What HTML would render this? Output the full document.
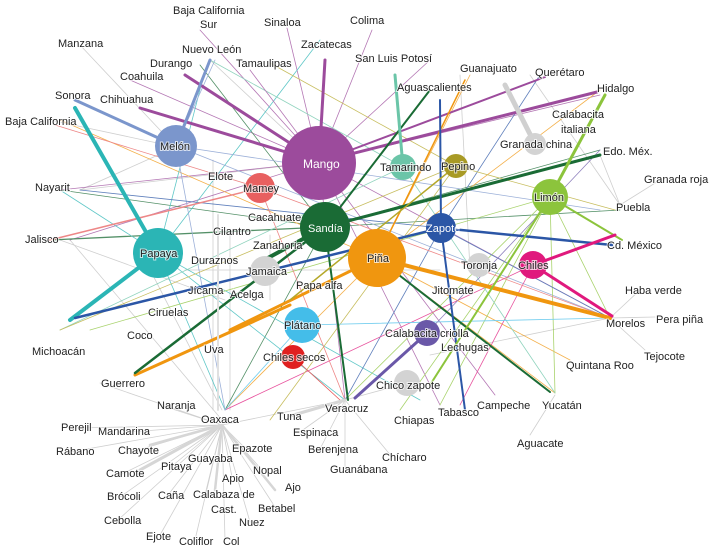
<!DOCTYPE html>
<html><head><meta charset="utf-8"><style>
body{margin:0;background:#fff}
svg{display:block}
text{font-family:"Liberation Sans",sans-serif;font-size:11px;fill:#222}
.lb text{paint-order:stroke;stroke:#fff;stroke-width:2px;stroke-opacity:.7}
.w{fill:#fff;stroke:none!important}
</style></head><body>
<svg width="711" height="553" viewBox="0 0 711 553">
<g fill="none" stroke-linecap="round">
<g stroke="#cfcfcf" stroke-width="0.8">
<line x1="222" y1="425" x2="75" y2="428"/><line x1="222" y1="425" x2="130" y2="432"/><line x1="222" y1="425" x2="70" y2="452"/>
<line x1="222" y1="425" x2="135" y2="451"/><line x1="222" y1="425" x2="120" y2="475"/><line x1="222" y1="425" x2="120" y2="497"/>
<line x1="222" y1="425" x2="118" y2="520"/><line x1="222" y1="425" x2="160" y2="535"/><line x1="222" y1="425" x2="195" y2="540"/>
<line x1="222" y1="425" x2="225" y2="540"/><line x1="222" y1="425" x2="250" y2="522"/><line x1="222" y1="425" x2="275" y2="507"/>
<line x1="222" y1="425" x2="168" y2="495"/><line x1="222" y1="425" x2="172" y2="466"/><line x1="222" y1="425" x2="205" y2="495"/>
<line x1="222" y1="425" x2="232" y2="477"/><line x1="222" y1="425" x2="262" y2="470"/><line x1="222" y1="425" x2="245" y2="448"/>
<line x1="222" y1="425" x2="160" y2="405"/><line x1="222" y1="425" x2="100" y2="383"/><line x1="222" y1="425" x2="345" y2="400"/>
<line x1="345" y1="400" x2="300" y2="432"/><line x1="345" y1="400" x2="320" y2="449"/><line x1="345" y1="400" x2="345" y2="468"/>
<line x1="345" y1="400" x2="392" y2="457"/><line x1="345" y1="400" x2="290" y2="416"/><line x1="345" y1="400" x2="400" y2="385"/>
<line x1="610" y1="318" x2="640" y2="290"/><line x1="610" y1="318" x2="655" y2="317"/><line x1="610" y1="318" x2="645" y2="350"/>
<line x1="610" y1="318" x2="430" y2="355"/><line x1="620" y1="205" x2="660" y2="180"/><line x1="620" y1="205" x2="600" y2="155"/>
<line x1="555" y1="395" x2="530" y2="435"/>
<line x1="80" y1="45" x2="176" y2="147"/><line x1="80" y1="190" x2="176" y2="147"/><line x1="80" y1="190" x2="319" y2="162"/>
<line x1="70" y1="240" x2="222" y2="420"/><line x1="50" y1="120" x2="176" y2="147"/><line x1="210" y1="60" x2="319" y2="162"/>
<line x1="213" y1="160" x2="213" y2="410"/><line x1="230" y1="235" x2="230" y2="410"/><line x1="270" y1="235" x2="270" y2="300"/>
<line x1="185" y1="270" x2="440" y2="270"/><line x1="60" y1="240" x2="225" y2="300"/><line x1="140" y1="250" x2="222" y2="410"/>
<line x1="530" y1="75" x2="620" y2="205"/><line x1="460" y1="75" x2="470" y2="270"/>
</g>
<g stroke-width="0.8" opacity="0.75">
<line x1="319" y1="162" x2="200" y2="30" stroke="#9c4b9c"/><line x1="319" y1="162" x2="287" y2="28" stroke="#9c4b9c"/>
<line x1="319" y1="162" x2="372" y2="30" stroke="#9c4b9c"/><line x1="319" y1="162" x2="130" y2="80" stroke="#9c4b9c"/>
<line x1="319" y1="162" x2="60" y2="190" stroke="#9c4b9c"/><line x1="319" y1="162" x2="70" y2="240" stroke="#9c4b9c"/>
<line x1="319" y1="162" x2="345" y2="400" stroke="#9c4b9c"/><line x1="319" y1="162" x2="610" y2="318" stroke="#9c4b9c"/>
<line x1="319" y1="162" x2="430" y2="60" stroke="#9c4b9c"/><line x1="319" y1="162" x2="600" y2="95" stroke="#9c4b9c"/>
<line x1="319" y1="162" x2="440" y2="405" stroke="#9c4b9c"/><line x1="319" y1="162" x2="495" y2="395" stroke="#9c4b9c"/>
<line x1="325" y1="227" x2="600" y2="150" stroke="#1a6b35"/><line x1="325" y1="227" x2="60" y2="190" stroke="#1a6b35"/>
<line x1="325" y1="227" x2="225" y2="410" stroke="#1a6b35"/><line x1="325" y1="227" x2="200" y2="65" stroke="#1a6b35"/>
<line x1="325" y1="227" x2="620" y2="210" stroke="#1a6b35"/><line x1="325" y1="227" x2="50" y2="240" stroke="#1a6b35" stroke-width="1.3"/>
<line x1="377" y1="258" x2="600" y2="90" stroke="#f0960f"/><line x1="377" y1="258" x2="225" y2="410" stroke="#f0960f"/>
<line x1="377" y1="258" x2="555" y2="393" stroke="#f0960f"/><line x1="377" y1="258" x2="470" y2="75" stroke="#f0960f"/>
<line x1="377" y1="258" x2="570" y2="360" stroke="#f0960f"/><line x1="377" y1="258" x2="60" y2="120" stroke="#f0960f"/>
<line x1="158" y1="253" x2="60" y2="190" stroke="#2bb5b5"/><line x1="158" y1="253" x2="225" y2="410" stroke="#2bb5b5"/>
<line x1="158" y1="253" x2="205" y2="70" stroke="#2bb5b5"/><line x1="158" y1="253" x2="345" y2="400" stroke="#2bb5b5"/>
<line x1="158" y1="253" x2="320" y2="40" stroke="#2bb5b5"/><line x1="158" y1="253" x2="420" y2="400" stroke="#2bb5b5"/>
<line x1="176" y1="146" x2="225" y2="410" stroke="#7b96cc"/><line x1="176" y1="146" x2="215" y2="60" stroke="#7b96cc"/>
<line x1="176" y1="146" x2="600" y2="210" stroke="#7b96cc"/><line x1="176" y1="146" x2="610" y2="318" stroke="#7b96cc"/>
<line x1="550" y1="197" x2="440" y2="405" stroke="#8cc43c"/><line x1="550" y1="197" x2="555" y2="393" stroke="#8cc43c"/>
<line x1="550" y1="197" x2="345" y2="400" stroke="#8cc43c"/><line x1="550" y1="197" x2="610" y2="318" stroke="#8cc43c"/>
<line x1="550" y1="197" x2="90" y2="330" stroke="#8cc43c"/><line x1="550" y1="197" x2="400" y2="410" stroke="#8cc43c"/>
<line x1="441" y1="228" x2="80" y2="190" stroke="#2b56a6"/><line x1="441" y1="228" x2="345" y2="400" stroke="#2b56a6"/>
<line x1="441" y1="228" x2="540" y2="75" stroke="#2b56a6"/><line x1="441" y1="228" x2="610" y2="318" stroke="#2b56a6"/>
<line x1="533" y1="265" x2="460" y2="405" stroke="#e0197d"/><line x1="533" y1="265" x2="225" y2="410" stroke="#e0197d"/>
<line x1="403" y1="167" x2="210" y2="60" stroke="#6bc5a8"/><line x1="403" y1="167" x2="60" y2="330" stroke="#6bc5a8"/>
<line x1="403" y1="167" x2="555" y2="393" stroke="#6bc5a8"/>
<line x1="456" y1="166" x2="270" y2="420" stroke="#b5a82a"/><line x1="456" y1="166" x2="60" y2="330" stroke="#b5a82a"/>
<line x1="456" y1="166" x2="270" y2="63" stroke="#b5a82a"/><line x1="456" y1="166" x2="615" y2="210" stroke="#b5a82a"/>
<line x1="260" y1="188" x2="610" y2="318" stroke="#e86060"/><line x1="260" y1="188" x2="345" y2="400" stroke="#e86060"/>
<line x1="260" y1="188" x2="50" y2="240" stroke="#e86060" stroke-width="1.5"/><line x1="260" y1="188" x2="55" y2="125" stroke="#e86060"/>
<line x1="302" y1="325" x2="225" y2="410" stroke="#44bde9"/><line x1="302" y1="325" x2="610" y2="318" stroke="#44bde9"/>
<line x1="427" y1="333" x2="600" y2="150" stroke="#6a58a8"/><line x1="293" y1="357" x2="340" y2="400" stroke="#e02020"/>
<line x1="319" y1="162" x2="250" y2="70" stroke="#9c4b9c"/>
</g>
<g stroke-width="3">
<line x1="319" y1="162" x2="325" y2="60" stroke="#9c4b9c"/><line x1="319" y1="162" x2="140" y2="108" stroke="#9c4b9c"/>
<line x1="319" y1="162" x2="597" y2="92" stroke="#9c4b9c"/><line x1="319" y1="162" x2="185" y2="75" stroke="#9c4b9c"/>
<line x1="319" y1="162" x2="545" y2="77" stroke="#9c4b9c" stroke-width="2"/>
<line x1="158" y1="253" x2="75" y2="108" stroke="#2bb5b5" stroke-width="4"/><line x1="158" y1="253" x2="70" y2="320" stroke="#2bb5b5" stroke-width="4"/>
<line x1="377" y1="258" x2="610" y2="318" stroke="#f0960f" stroke-width="4"/><line x1="377" y1="258" x2="230" y2="330" stroke="#f0960f"/>
<line x1="377" y1="258" x2="465" y2="80" stroke="#f0960f" stroke-width="1.5"/><line x1="290" y1="305" x2="135" y2="375" stroke="#f0960f" stroke-width="3"/>
<line x1="325" y1="227" x2="135" y2="373" stroke="#1a6b35" stroke-width="2.5"/><line x1="325" y1="227" x2="600" y2="155" stroke="#1a6b35"/>
<line x1="325" y1="227" x2="348" y2="400" stroke="#1a6b35" stroke-width="2"/><line x1="325" y1="227" x2="430" y2="90" stroke="#1a6b35" stroke-width="2"/>
<line x1="377" y1="258" x2="550" y2="392" stroke="#1a6b35" stroke-width="2"/>
<line x1="441" y1="228" x2="75" y2="318" stroke="#2b56a6" stroke-width="2.5"/><line x1="441" y1="228" x2="612" y2="245" stroke="#2b56a6" stroke-width="2.5"/>
<line x1="441" y1="228" x2="465" y2="410" stroke="#2b56a6" stroke-width="2"/><line x1="441" y1="228" x2="440" y2="100" stroke="#2b56a6" stroke-width="2"/>
<line x1="550" y1="197" x2="430" y2="385" stroke="#8cc43c" stroke-width="2"/><line x1="550" y1="197" x2="605" y2="95" stroke="#8cc43c"/>
<line x1="550" y1="197" x2="622" y2="240" stroke="#8cc43c" stroke-width="2"/>
<line x1="533" y1="265" x2="612" y2="316" stroke="#e0197d" stroke-width="3"/><line x1="533" y1="265" x2="615" y2="235" stroke="#e0197d"/>
<line x1="176" y1="146" x2="210" y2="60" stroke="#7b96cc"/><line x1="176" y1="146" x2="75" y2="100" stroke="#7b96cc"/>
<line x1="403" y1="167" x2="395" y2="75" stroke="#6bc5a8"/><line x1="456" y1="166" x2="290" y2="300" stroke="#b5a82a" stroke-width="1.5"/>
<line x1="427" y1="333" x2="355" y2="398" stroke="#6a58a8" stroke-width="3"/>
<line x1="535" y1="144" x2="505" y2="85" stroke="#d0d0d0" stroke-width="5"/>
<line x1="222" y1="425" x2="140" y2="470" stroke="#d6d6d6" stroke-width="3"/><line x1="222" y1="425" x2="275" y2="490" stroke="#d6d6d6" stroke-width="2.5"/>
<line x1="222" y1="425" x2="215" y2="490" stroke="#d6d6d6" stroke-width="2.5"/><line x1="345" y1="400" x2="290" y2="416" stroke="#d6d6d6" stroke-width="3"/>
<line x1="222" y1="425" x2="150" y2="445" stroke="#d6d6d6" stroke-width="2.5"/>
<line x1="325" y1="227" x2="255" y2="265" stroke="#1a6b35" stroke-width="4"/>
<line x1="218" y1="215" x2="218" y2="410" stroke="#e0e0e0" stroke-width="2"/>
</g>
</g>
<circle cx="319" cy="163" r="37" fill="#9c4b9c"/>
<circle cx="377" cy="258" r="29" fill="#f0960f"/>
<circle cx="325" cy="227" r="25" fill="#1a6b35"/>
<circle cx="158" cy="253" r="25" fill="#2bb5b5"/>
<circle cx="176" cy="146" r="21" fill="#7b96cc"/>
<circle cx="260" cy="188" r="15" fill="#e86060"/>
<circle cx="550" cy="197" r="18" fill="#8cc43c"/>
<circle cx="441" cy="228" r="15" fill="#2b56a6"/>
<circle cx="533" cy="265" r="14" fill="#e0197d"/>
<circle cx="302" cy="325" r="18" fill="#44bde9"/>
<circle cx="293" cy="357" r="12" fill="#e02020"/>
<circle cx="427" cy="333" r="13" fill="#6a58a8"/>
<circle cx="403" cy="167" r="13" fill="#6bc5a8"/>
<circle cx="456" cy="166" r="12" fill="#a89a25"/>
<circle cx="535" cy="144" r="11" fill="#d3d3d3"/>
<circle cx="265" cy="271" r="15" fill="#d3d3d3"/>
<circle cx="479" cy="265" r="12" fill="#d3d3d3"/>
<circle cx="407" cy="383" r="13" fill="#d3d3d3"/>
<g class="lb">
<text x="303" y="168" class="w" style="font-size:12px">Mango</text>
<text x="308" y="232" class="w">Sandía</text>
<text x="367" y="262">Piña</text>
<text x="140" y="257">Papaya</text>
<text x="160" y="150">Melón</text>
<text x="243" y="192">Mamey</text>
<text x="534" y="201">Limón</text>
<text x="426" y="232" class="w">Zapote</text>
<text x="518" y="269">Chiles</text>
<text x="284" y="329">Plátano</text>
<text x="263" y="361">Chiles secos</text>
<text x="385" y="337">Calabacita criolla</text>
<text x="380" y="171">Tamarindo</text>
<text x="441" y="170">Pepino</text>
<text x="500" y="148">Granada china</text>
<text x="552" y="118">Calabacita</text><text x="561" y="133">italiana</text>
<text x="246" y="275">Jamaica</text>
<text x="461" y="269">Toronja</text>
<text x="376" y="389">Chico zapote</text>
<text x="173" y="14">Baja California</text><text x="200" y="28">Sur</text>
<text x="264" y="26">Sinaloa</text><text x="350" y="24">Colima</text>
<text x="301" y="48">Zacatecas</text><text x="355" y="62">San Luis Potosí</text>
<text x="182" y="53">Nuevo León</text><text x="236" y="67">Tamaulipas</text>
<text x="150" y="67">Durango</text><text x="120" y="80">Coahuila</text>
<text x="100" y="103">Chihuahua</text><text x="58" y="47">Manzana</text>
<text x="55" y="99">Sonora</text><text x="5" y="125">Baja California</text>
<text x="460" y="72">Guanajuato</text><text x="535" y="76">Querétaro</text>
<text x="597" y="92">Hidalgo</text><text x="397" y="91">Aguascalientes</text>
<text x="603" y="155">Edo. Méx.</text><text x="644" y="183">Granada roja</text>
<text x="616" y="211">Puebla</text><text x="607" y="249">Cd. México</text>
<text x="625" y="294">Haba verde</text><text x="656" y="323">Pera piña</text>
<text x="606" y="327">Morelos</text><text x="644" y="360">Tejocote</text>
<text x="566" y="369">Quintana Roo</text><text x="542" y="409">Yucatán</text>
<text x="517" y="447">Aguacate</text><text x="477" y="409">Campeche</text>
<text x="438" y="416">Tabasco</text><text x="394" y="424">Chiapas</text>
<text x="441" y="351">Lechugas</text><text x="432" y="294">Jitomate</text>
<text x="35" y="191">Nayarit</text><text x="25" y="243">Jalisco</text>
<text x="32" y="355">Michoacán</text><text x="101" y="387">Guerrero</text>
<text x="157" y="409">Naranja</text><text x="201" y="423">Oaxaca</text>
<text x="325" y="412">Veracruz</text><text x="277" y="420">Tuna</text>
<text x="293" y="436">Espinaca</text><text x="308" y="453">Berenjena</text>
<text x="382" y="461">Chícharo</text><text x="330" y="473">Guanábana</text>
<text x="61" y="431">Perejil</text><text x="56" y="455">Rábano</text>
<text x="98" y="435">Mandarina</text><text x="118" y="454">Chayote</text>
<text x="232" y="452">Epazote</text><text x="188" y="462">Guayaba</text>
<text x="222" y="482">Apio</text><text x="253" y="474">Nopal</text>
<text x="106" y="477">Camote</text><text x="161" y="470">Pitaya</text>
<text x="193" y="498">Calabaza de</text><text x="211" y="513">Cast.</text>
<text x="285" y="491">Ajo</text><text x="258" y="512">Betabel</text>
<text x="107" y="500">Brócoli</text><text x="158" y="499">Caña</text>
<text x="239" y="526">Nuez</text><text x="104" y="524">Cebolla</text>
<text x="146" y="540">Ejote</text><text x="179" y="545">Coliflor</text>
<text x="223" y="545">Col</text>
<text x="208" y="180">Elote</text><text x="248" y="221">Cacahuate</text>
<text x="213" y="235">Cilantro</text><text x="253" y="249">Zanahoria</text>
<text x="191" y="264">Duraznos</text><text x="188" y="294">Jícama</text>
<text x="230" y="298">Acelga</text><text x="296" y="289">Papa alfa</text>
<text x="148" y="316">Ciruelas</text><text x="127" y="339">Coco</text>
<text x="204" y="353">Uva</text>
</g>
</svg>
</body></html>
